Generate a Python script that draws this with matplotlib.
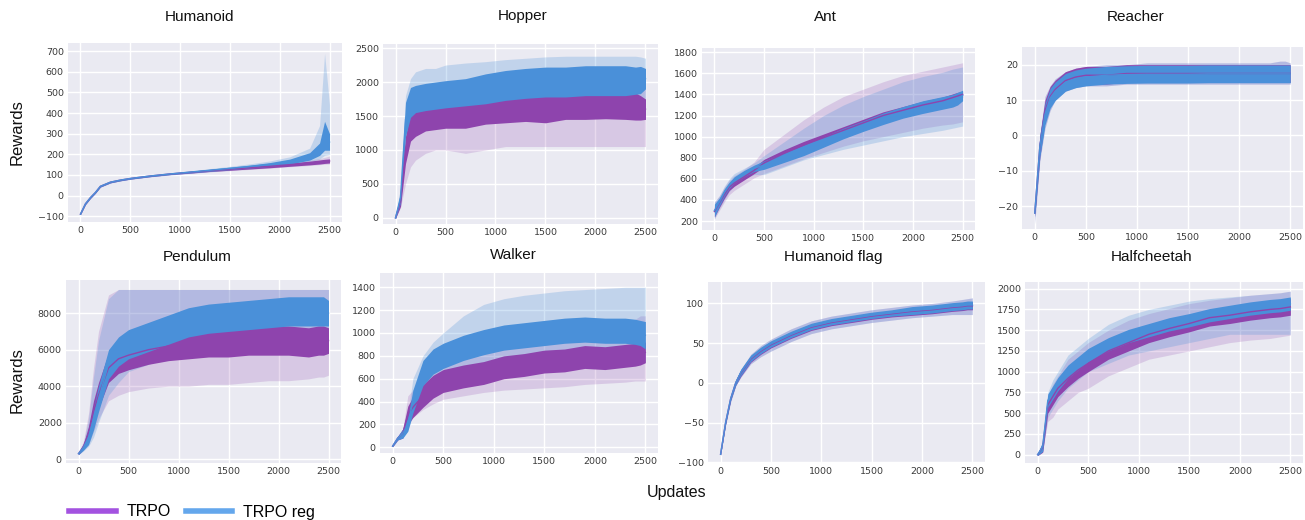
# -*- coding: utf-8 -*-
"""
TRPO vs TRPO reg learning curves on 8 environments (2 x 4 grid).
Dark band = range of the noisy mean curve, light band = spread across seeds.
"""
import matplotlib
matplotlib.use("Agg")
import matplotlib.pyplot as plt
from matplotlib.lines import Line2D

# ── data ──────────────────────────────────────────────────────────────────────
UPDATES = [0, 50, 100, 150, 200, 300, 400, 500, 700, 900, 1100, 1300, 1500,
           1700, 1900, 2100, 2300, 2400, 2450, 2500]

TITLES = ["Humanoid", "Hopper", "Ant", "Reacher",
          "Pendulum", "Walker", "Humanoid flag", "Halfcheetah"]

# Humanoid
HUM_TRPO_MID = [-90, -40, -10, 15, 45, 65, 75, 83, 95, 105, 113, 121, 128, 135, 142, 150, 158, 163, 166, 168]
HUM_TRPO_WID = [2, 3, 3, 3, 3, 3, 3, 3, 3, 3, 4, 4, 5, 6, 7, 8, 9, 10, 10, 10]
HUM_TRPO_LO = [-92, -44, -14, 11, 41, 61, 71, 79, 91, 100, 108, 115, 121, 127, 133, 140, 146, 150, 152, 153]
HUM_TRPO_HI = [-88, -36, -6, 19, 49, 69, 79, 87, 99, 110, 118, 127, 136, 144, 152, 161, 172, 180, 185, 192]
HUM_REG_MID = [-90, -40, -10, 15, 45, 65, 75, 83, 95, 105, 114, 123, 132, 141, 151, 165, 190, 225, 290, 260]
HUM_REG_WID = [2, 3, 3, 3, 3, 3, 3, 3, 3, 3, 4, 5, 6, 7, 9, 12, 18, 30, 70, 40]
HUM_REG_LO = [-92, -44, -14, 11, 41, 61, 71, 79, 91, 100, 108, 116, 123, 130, 138, 148, 162, 178, 195, 200]
HUM_REG_HI = [-88, -36, -6, 19, 49, 69, 79, 87, 99, 110, 120, 131, 142, 154, 168, 188, 230, 340, 690, 440]

# Hopper
HOP_TRPO_MID = [0, 250, 1000, 1350, 1400, 1480, 1500, 1520, 1520, 1580, 1600, 1620, 1620, 1650, 1650, 1660, 1650, 1640, 1620, 1600]
HOP_TRPO_WID = [10, 80, 200, 220, 200, 200, 200, 200, 200, 200, 200, 200, 220, 200, 200, 200, 200, 200, 180, 150]
HOP_TRPO_LO = [0, 150, 500, 750, 850, 950, 1000, 1000, 950, 1000, 1050, 1050, 1050, 1050, 1050, 1050, 1050, 1050, 1050, 1050]
HOP_TRPO_HI = [10, 400, 1450, 1800, 1900, 1950, 1950, 2000, 2000, 2050, 2100, 2100, 2150, 2150, 2150, 2150, 2150, 2150, 2100, 2100]
HOP_REG_MID = [0, 300, 1450, 1700, 1750, 1780, 1800, 1820, 1850, 1900, 1950, 1980, 2000, 2000, 2020, 2020, 2020, 2020, 2030, 2050]
HOP_REG_WID = [10, 80, 250, 220, 200, 200, 200, 200, 200, 220, 220, 220, 220, 220, 220, 220, 220, 200, 200, 150]
HOP_REG_LO = [0, 200, 1100, 1350, 1400, 1450, 1450, 1450, 1450, 1500, 1550, 1550, 1550, 1550, 1550, 1550, 1550, 1550, 1550, 1550]
HOP_REG_HI = [10, 450, 1800, 2050, 2150, 2200, 2200, 2250, 2280, 2300, 2330, 2350, 2370, 2380, 2380, 2380, 2380, 2380, 2370, 2350]

# Ant
ANT_TRPO_MID = [290, 370, 450, 520, 560, 620, 680, 750, 840, 920, 990, 1060, 1130, 1200, 1250, 1300, 1340, 1370, 1385, 1400]
ANT_TRPO_WID = [50, 40, 35, 30, 30, 30, 30, 35, 35, 35, 35, 35, 35, 35, 35, 35, 35, 35, 35, 30]
ANT_TRPO_LO = [220, 300, 380, 450, 490, 550, 610, 650, 720, 790, 850, 910, 960, 1000, 1040, 1080, 1110, 1120, 1130, 1140]
ANT_TRPO_HI = [380, 440, 520, 590, 630, 690, 760, 880, 1020, 1160, 1280, 1380, 1450, 1520, 1580, 1620, 1660, 1680, 1690, 1700]
ANT_REG_MID = [300, 380, 470, 540, 590, 650, 700, 730, 800, 870, 950, 1030, 1100, 1170, 1230, 1280, 1320, 1340, 1360, 1390]
ANT_REG_WID = [60, 40, 35, 30, 30, 30, 30, 40, 45, 50, 50, 50, 50, 55, 55, 60, 60, 60, 60, 50]
ANT_REG_LO = [220, 320, 400, 480, 530, 600, 640, 640, 710, 780, 830, 880, 920, 960, 1000, 1030, 1060, 1080, 1090, 1100]
ANT_REG_HI = [380, 440, 530, 600, 650, 700, 750, 820, 950, 1080, 1200, 1300, 1380, 1450, 1520, 1570, 1610, 1640, 1650, 1660]

# Reacher
REA_TRPO_MID = [-22, -3, 7, 11, 13, 15.5, 16.5, 17, 17, 17.5, 17.5, 17.5, 17.5, 17.5, 17.5, 17.5, 17.5, 17.5, 17.5, 17.5]
REA_TRPO_WID = [1, 3, 3, 2.8, 2.6, 2.5, 2.5, 2.5, 2.5, 2.5, 2.5, 2.5, 2.5, 2.5, 2.5, 2.5, 2.5, 2.5, 2.5, 2.5]
REA_TRPO_LO = [-25, -7, 2, 7, 10, 12.5, 13.5, 14, 14, 14.5, 14.5, 14.5, 14.5, 14.5, 14.5, 14.5, 14.5, 14.5, 14.5, 14.5]
REA_TRPO_HI = [-20, 0, 11, 14, 16, 18, 19, 19.5, 20, 20, 20.5, 20.5, 20.5, 20.5, 20.5, 20.5, 20.5, 21, 21, 20.5]
REA_REG_MID = [-22, -3, 6, 10.5, 12.5, 15, 16, 16.5, 17, 17.2, 17.3, 17.3, 17.3, 17.4, 17.4, 17.4, 17.4, 17.4, 17.4, 17.4]
REA_REG_WID = [1, 3, 3, 2.8, 2.6, 2.5, 2.5, 2.5, 2.5, 2.5, 2.5, 2.5, 2.5, 2.5, 2.5, 2.5, 2.5, 2.5, 2.5, 2.5]
REA_REG_LO = [-25, -7, 2, 7, 10, 12.5, 13.5, 14, 14, 14.5, 14.5, 14.5, 14.5, 14.5, 14.5, 14.5, 14.5, 14.5, 14.5, 14.5]
REA_REG_HI = [-20, 0, 11, 14, 16, 18, 19, 19.5, 20, 20, 20.5, 20.5, 20.5, 20.5, 20.5, 20.5, 20.5, 21, 21, 20.5]

# Pendulum
PEN_TRPO_MID = [300, 700, 1400, 2600, 3500, 5000, 5500, 5700, 6000, 6200, 6300, 6400, 6400, 6500, 6500, 6500, 6400, 6500, 6500, 6500]
PEN_TRPO_WID = [50, 150, 400, 600, 700, 800, 800, 800, 800, 800, 800, 800, 800, 800, 800, 800, 800, 800, 800, 700]
PEN_TRPO_LO = [250, 500, 800, 1500, 2200, 3200, 3500, 3700, 3900, 4000, 4000, 4100, 4100, 4200, 4300, 4300, 4400, 4500, 4500, 4600]
PEN_TRPO_HI = [350, 1000, 2500, 5000, 7000, 9000, 9300, 9300, 9300, 9300, 9300, 9300, 9300, 9300, 9300, 9300, 9300, 9300, 9300, 9300]
PEN_REG_MID = [300, 650, 1200, 2200, 3300, 5200, 5900, 6300, 6700, 7100, 7500, 7700, 7800, 7900, 8000, 8100, 8100, 8100, 8100, 8000]
PEN_REG_WID = [50, 150, 400, 600, 700, 800, 800, 800, 800, 800, 800, 800, 800, 800, 800, 800, 800, 800, 800, 700]
PEN_REG_LO = [250, 450, 700, 1200, 2000, 3500, 4200, 4800, 5200, 5600, 6000, 6200, 6300, 6300, 6400, 6400, 6400, 6400, 6400, 6400]
PEN_REG_HI = [350, 900, 2200, 4500, 6500, 8800, 9300, 9300, 9300, 9300, 9300, 9300, 9300, 9300, 9300, 9300, 9300, 9300, 9300, 9300]

# Walker
WAL_TRPO_MID = [10, 80, 120, 280, 350, 450, 530, 580, 620, 650, 700, 720, 750, 760, 790, 780, 800, 810, 820, 830]
WAL_TRPO_WID = [5, 15, 40, 80, 90, 100, 100, 100, 100, 100, 100, 100, 100, 100, 100, 100, 100, 100, 100, 90]
WAL_TRPO_LO = [5, 60, 90, 180, 260, 330, 380, 420, 450, 480, 500, 510, 520, 530, 550, 560, 570, 580, 580, 580]
WAL_TRPO_HI = [15, 100, 160, 450, 500, 600, 700, 750, 800, 850, 900, 950, 980, 1000, 1050, 1080, 1100, 1120, 1150, 1150]
WAL_REG_MID = [10, 80, 120, 200, 400, 650, 750, 800, 870, 920, 960, 980, 1000, 1020, 1030, 1020, 1020, 1010, 1000, 980]
WAL_REG_WID = [5, 15, 40, 60, 100, 110, 110, 110, 110, 110, 110, 110, 110, 110, 110, 110, 110, 110, 110, 120]
WAL_REG_LO = [5, 60, 90, 150, 280, 450, 550, 600, 650, 700, 720, 740, 750, 760, 770, 770, 770, 760, 760, 750]
WAL_REG_HI = [15, 100, 160, 280, 600, 800, 920, 1000, 1150, 1250, 1300, 1330, 1350, 1370, 1380, 1390, 1400, 1400, 1400, 1400]

# Humanoid flag
FLAG_TRPO_MID = [-90, -50, -20, 0, 12, 30, 40, 48, 60, 70, 76, 80, 84, 87, 90, 92, 95, 96, 97, 97]
FLAG_TRPO_WID = [1, 2, 2, 3, 4, 4, 4, 4, 4, 4, 4, 4, 4, 4, 5, 5, 5, 5, 5, 5]
FLAG_TRPO_LO = [-91, -53, -24, -4, 7, 24, 33, 40, 52, 62, 68, 72, 76, 79, 82, 84, 86, 86, 86, 86]
FLAG_TRPO_HI = [-89, -47, -16, 4, 17, 36, 47, 55, 68, 78, 84, 88, 92, 95, 98, 100, 103, 105, 106, 107]
FLAG_REG_MID = [-90, -50, -20, 0, 13, 31, 41, 49, 61, 71, 77, 81, 85, 88, 91, 93, 96, 97, 98, 98]
FLAG_REG_WID = [1, 2, 2, 3, 4, 4, 4, 4, 4, 4, 4, 4, 4, 4, 5, 5, 5, 5, 5, 5]
FLAG_REG_LO = [-91, -53, -24, -4, 7, 24, 33, 40, 52, 62, 68, 72, 76, 79, 82, 84, 86, 86, 86, 86]
FLAG_REG_HI = [-89, -47, -16, 4, 17, 36, 47, 55, 68, 78, 84, 88, 92, 95, 98, 100, 103, 105, 106, 107]

# Halfcheetah
HC_TRPO_MID = [0, 90, 600, 700, 800, 920, 1020, 1100, 1250, 1350, 1450, 1520, 1580, 1650, 1680, 1720, 1750, 1760, 1770, 1780]
HC_TRPO_WID = [10, 60, 100, 100, 100, 100, 100, 100, 100, 100, 100, 100, 100, 100, 100, 100, 100, 100, 100, 100]
HC_TRPO_LO = [-10, 40, 400, 450, 550, 650, 750, 800, 950, 1050, 1150, 1200, 1250, 1300, 1350, 1380, 1400, 1420, 1430, 1440]
HC_TRPO_HI = [10, 140, 700, 850, 950, 1150, 1250, 1350, 1500, 1620, 1700, 1760, 1820, 1860, 1890, 1920, 1940, 1950, 1960, 1970]
HC_REG_MID = [0, 100, 650, 750, 850, 1000, 1100, 1200, 1330, 1430, 1500, 1570, 1620, 1680, 1720, 1760, 1790, 1800, 1810, 1820]
HC_REG_WID = [10, 60, 80, 80, 80, 80, 80, 80, 80, 80, 80, 80, 80, 80, 80, 80, 80, 80, 80, 80]
HC_REG_LO = [-10, 50, 450, 550, 650, 800, 900, 1000, 1100, 1200, 1250, 1300, 1350, 1400, 1450, 1450, 1450, 1450, 1450, 1450]
HC_REG_HI = [10, 150, 750, 900, 1000, 1200, 1300, 1400, 1570, 1680, 1750, 1800, 1850, 1880, 1900, 1920, 1940, 1950, 1960, 1970]

YTICKS = [
    [-100, 0, 100, 200, 300, 400, 500, 600, 700],
    [0, 500, 1000, 1500, 2000, 2500],
    [200, 400, 600, 800, 1000, 1200, 1400, 1600, 1800],
    [-20, -10, 0, 10, 20],
    [0, 2000, 4000, 6000, 8000],
    [0, 200, 400, 600, 800, 1000, 1200, 1400],
    [-100, -50, 0, 50, 100],
    [0, 250, 500, 750, 1000, 1250, 1500, 1750, 2000],
]
YLIMS = [(-128, 740), (-90, 2560), (115, 1840), (-26.5, 25),
         (-210, 9820), (-50, 1525), (-101, 127), (-100, 2080)]
XTICKS = [0, 500, 1000, 1500, 2000, 2500]

# table used for drawing (built from the arrays above)
SERIES = [
    ((HUM_TRPO_MID, HUM_TRPO_WID, HUM_TRPO_LO, HUM_TRPO_HI), (HUM_REG_MID, HUM_REG_WID, HUM_REG_LO, HUM_REG_HI)),
    ((HOP_TRPO_MID, HOP_TRPO_WID, HOP_TRPO_LO, HOP_TRPO_HI), (HOP_REG_MID, HOP_REG_WID, HOP_REG_LO, HOP_REG_HI)),
    ((ANT_TRPO_MID, ANT_TRPO_WID, ANT_TRPO_LO, ANT_TRPO_HI), (ANT_REG_MID, ANT_REG_WID, ANT_REG_LO, ANT_REG_HI)),
    ((REA_TRPO_MID, REA_TRPO_WID, REA_TRPO_LO, REA_TRPO_HI), (REA_REG_MID, REA_REG_WID, REA_REG_LO, REA_REG_HI)),
    ((PEN_TRPO_MID, PEN_TRPO_WID, PEN_TRPO_LO, PEN_TRPO_HI), (PEN_REG_MID, PEN_REG_WID, PEN_REG_LO, PEN_REG_HI)),
    ((WAL_TRPO_MID, WAL_TRPO_WID, WAL_TRPO_LO, WAL_TRPO_HI), (WAL_REG_MID, WAL_REG_WID, WAL_REG_LO, WAL_REG_HI)),
    ((FLAG_TRPO_MID, FLAG_TRPO_WID, FLAG_TRPO_LO, FLAG_TRPO_HI), (FLAG_REG_MID, FLAG_REG_WID, FLAG_REG_LO, FLAG_REG_HI)),
    ((HC_TRPO_MID, HC_TRPO_WID, HC_TRPO_LO, HC_TRPO_HI), (HC_REG_MID, HC_REG_WID, HC_REG_LO, HC_REG_HI)),
]

# ── style ─────────────────────────────────────────────────────────────────────
W, H = 1305, 520
TRPO_DARK = "#8E44AD"
REG_DARK = "#4A90D9"
TRPO_LEG = "#A352E0"
REG_LEG = "#64A7EC"
BG = "#EAEAF2"
SANS = ["Liberation Sans", "DejaVu Sans"]

# axes boxes in pixels: left, right, top, bottom
BOXES = [
    (68, 342, 43, 222), (383, 658, 44, 224), (702, 975, 48, 230), (1022, 1303, 47, 229),
    (66, 341, 280, 463), (380, 658, 273, 453), (708, 985, 282, 463), (1025, 1303, 282, 463),
]
# title centres in pixels
TITLE_POS = [(200, 17), (523, 16), (825, 17), (1136, 17),
             (197, 257), (513, 255), (833, 257), (1152, 257)]

fig = plt.figure(figsize=(W / 100, H / 100), dpi=100)
fig.patch.set_facecolor("white")

for i, (trpo, reg) in enumerate(SERIES):
    l, r, t, b = BOXES[i]
    ax = fig.add_axes([l / W, 1 - b / H, (r - l) / W, (b - t) / H])
    ax.set_facecolor(BG)
    for s in ax.spines.values():
        s.set_visible(False)
    ax.grid(True, color="white", linewidth=1.0)
    ax.set_axisbelow(True)

    # light spread bands
    ax.fill_between(UPDATES, trpo[2], trpo[3], color=TRPO_DARK, alpha=0.2, linewidth=0)
    ax.fill_between(UPDATES, reg[2], reg[3], color=REG_DARK, alpha=0.25, linewidth=0)
    # dark bands of the noisy mean curves
    for (mid, wid, _, _), col in ((trpo, TRPO_DARK), (reg, REG_DARK)):
        lo = [m - w for m, w in zip(mid, wid)]
        hi = [m + w for m, w in zip(mid, wid)]
        ax.fill_between(UPDATES, lo, hi, color=col, linewidth=0)
        ax.plot(UPDATES, mid, color=col, linewidth=1.0)

    ax.set_xlim(-125, 2625)
    ax.set_ylim(*YLIMS[i])
    ax.set_xticks(XTICKS)
    ax.set_yticks(YTICKS[i])
    ax.tick_params(length=0, pad=3, labelsize=6.8, labelcolor="#3a3a3a")

    tx, ty = TITLE_POS[i]
    fig.text(tx / W, 1 - ty / H, TITLES[i], ha="center", va="center",
             fontsize=11, family=SANS, color="#111111")

fig.text(17 / W, 1 - 132 / H, "Rewards", rotation=90, ha="center", va="center",
         fontsize=12, family=SANS, color="#111111")
fig.text(17 / W, 1 - 380 / H, "Rewards", rotation=90, ha="center", va="center",
         fontsize=12, family=SANS, color="#111111")
fig.text(677 / W, 1 - 493 / H, "Updates", ha="center", va="center",
         fontsize=11.5, family=SANS, color="#111111")

# legend drawn at the bottom left
handles = [Line2D([], [], color=TRPO_LEG, linewidth=4),
           Line2D([], [], color=REG_LEG, linewidth=4)]
fig.legend(handles, ["TRPO", "TRPO reg"], loc="center left",
           bbox_to_anchor=(55 / W, 1 - 512 / H), ncol=2, frameon=False,
           handlelength=2.9, columnspacing=0.9, handletextpad=0.7,
           borderpad=0.4, prop={"family": SANS, "size": 11.5})

fig.savefig("out.png", dpi=100, facecolor="white")
